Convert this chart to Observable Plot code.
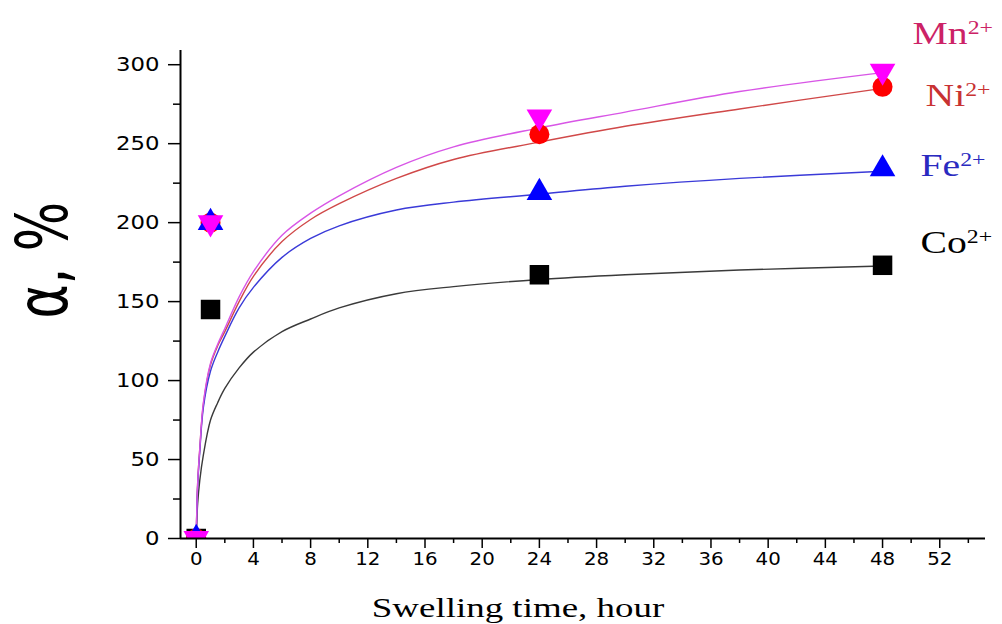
<!DOCTYPE html>
<html><head><meta charset="utf-8">
<script src="https://cdn.jsdelivr.net/npm/d3@7"></script>
<script src="https://cdn.jsdelivr.net/npm/@observablehq/plot@0.6"></script>
<style>body{margin:0;background:#fff}</style>
</head><body><div id="chart"></div>
<script>
// measured points
const hours = [0, 1, 24, 48];
const coValues = [0, 145, 167, 173];
const feValues = [0, 200, 219, 234];
const niValues = [0, 200, 256, 286];
const mnValues = [0, 200, 267, 296];

// fitted curves
const fitHours = [0, 0.1, 0.25, 0.5, 1, 1.5, 2, 3, 4, 6, 8, 10, 14, 18, 24, 30, 38, 48];
const coFit = [0, 22, 37, 53, 75, 86, 95, 108, 118, 131, 139, 146, 155, 159.5, 164, 167, 170, 172.5];
const feFit = [0, 33, 55, 83, 106, 118, 128, 146, 159, 178, 190, 198, 208, 213, 218, 223, 228, 232.5];
const niFit = [0, 35, 57, 85, 110, 122, 131, 150, 166, 188, 202, 212, 228, 240, 251, 261, 272, 285];
const mnFit = [0, 35, 57, 86, 111, 123, 133, 153, 169, 192, 206, 217, 235, 248, 260, 270, 283, 295];

const ionNames = ["Co", "Ni", "Fe", "Mn"];
const ionCharges = ["2+", "2+", "2+", "2+"];

const xMajorTicks = d3.range(0, 53, 4);
const xMinorTicks = d3.range(2, 55, 4);
const yMajorTicks = [0, 50, 100, 150, 200, 250, 300];
const yMinorTicks = [25, 75, 125, 175, 225, 275];
const xTitle = "Swelling time, hour";
const yTitle = "α, %";

// styling
const invertedTriangle = {
  draw(context, size) {
    const y = -Math.sqrt(size / (Math.sqrt(3) * 3));
    context.moveTo(0, -y * 2);
    context.lineTo(-Math.sqrt(3) * y, y);
    context.lineTo(Math.sqrt(3) * y, y);
    context.closePath();
  }
};
const styles = {
  Co: {fill: "#000000", line: "#3a3a3a", symbol: "square", r: 11, label: "#000000", dx: 38, dy: -12},
  Ni: {fill: "#ff0000", line: "#d04848", symbol: "circle", r: 10, label: "#c83232", dx: 43, dy: 19},
  Fe: {fill: "#0000ff", line: "#3a3ad8", symbol: "triangle", r: 9.5, label: "#2a2ac0", dx: 38, dy: 7},
  Mn: {fill: "#ff00ff", line: "#d856e6", symbol: invertedTriangle, r: 9.5, label: "#cc2266", dx: 30, dy: -27}
};

const valuesBy = {Co: coValues, Ni: niValues, Fe: feValues, Mn: mnValues};
const fitBy = {Co: coFit, Ni: niFit, Fe: feFit, Mn: mnFit};

const xDomain = [-1.1, 55.2];
const yDomain = [0, 309];

const marks = [];
for (const name of ionNames) {
  const rows = fitHours.map((h, i) => ({h, v: fitBy[name][i]}));
  marks.push(Plot.line(rows, {x: "h", y: "v", stroke: styles[name].line, strokeWidth: 1.4, curve: "catmull-rom"}));
}
for (const name of ionNames) {
  const rows = hours.map((h, i) => ({h, v: valuesBy[name][i]}));
  marks.push(Plot.dot(rows, {x: "h", y: "v", symbol: () => styles[name].symbol, fill: styles[name].fill, r: styles[name].r, stroke: "none", clip: true}));
}
ionNames.forEach((name, i) => {
  const s = styles[name];
  const n = hours.length - 1;
  marks.push(Plot.text([{h: hours[n], v: valuesBy[name][n], name}], {
    x: "h", y: "v", text: "name", dx: s.dx, dy: s.dy, textAnchor: "start", lineAnchor: "bottom",
    fill: s.label, fontSize: 31, fontFamily: "Liberation Serif"
  }));
});
marks.push(
  Plot.axisY({ticks: yMajorTicks, tickSize: 12, tickPadding: 9, fontSize: 19, fontFamily: "DejaVu Sans", label: null, strokeWidth: 1.5}),
  Plot.axisY({ticks: yMinorTicks, tickSize: 7, tickFormat: () => "", label: null, strokeWidth: 1.5}),
  Plot.axisX({ticks: xMajorTicks, tickSize: 10, tickPadding: 4, fontSize: 18, fontFamily: "DejaVu Sans", label: null, strokeWidth: 1.5}),
  Plot.axisX({ticks: xMinorTicks, tickSize: 5, tickFormat: () => "", label: null, strokeWidth: 1.5}),
  Plot.ruleY([yDomain[0]], {stroke: "#000", strokeWidth: 2}),
  Plot.ruleX([xDomain[0]], {stroke: "#000", strokeWidth: 2}),
  Plot.text([yTitle], {frameAnchor: "left", text: d => d, rotate: -90, dx: -136, dy: 24, fontSize: 52, fontFamily: "DejaVu Sans", fill: "#000"}),
  Plot.text([xTitle], {frameAnchor: "bottom", text: d => d, dx: -65, dy: 78, lineAnchor: "bottom", fontSize: 28, fontFamily: "Liberation Serif", fill: "#000"})
);

const chart = Plot.plot({
  width: 1002, height: 624,
  marginLeft: 180, marginRight: 17, marginTop: 50, marginBottom: 86,
  x: {domain: xDomain},
  y: {domain: yDomain},
  style: {background: "white", color: "#000", overflow: "visible"},
  marks
});
document.getElementById("chart").appendChild(chart);

// the reference is stretched horizontally: widen the text about its anchor
function stretch(node, sx, sy) {
  const t = node.getAttribute("transform") || "";
  const xa = node.getAttribute("x");
  const x = xa && /^-?[\d.]+$/.test(xa) ? +xa : 0;
  node.setAttribute("transform", `${t} translate(${x},0) scale(${sx},${sy}) translate(${-x},0)`);
}
const allText = d3.select(chart).selectAll("text").nodes();
allText.forEach(node => {
  const content = node.textContent;
  const idx = ionNames.indexOf(content);
  if (idx >= 0) {
    d3.select(node).append("tspan").attr("dy", "-0.55em").attr("font-size", "0.6em").text(ionCharges[idx]);
    stretch(node, 1.28, 1);
  } else if (content === yTitle) {
    stretch(node, 1, 1.38);
  } else if (content === xTitle) {
    stretch(node, 1.32, 1);
  } else if (/^\d+$/.test(content)) {
    const isY = node.closest('g[aria-label="y-axis tick label"]');
    stretch(node, isY ? 1.2 : 1.1, 1);
  }
});
</script></body></html>
